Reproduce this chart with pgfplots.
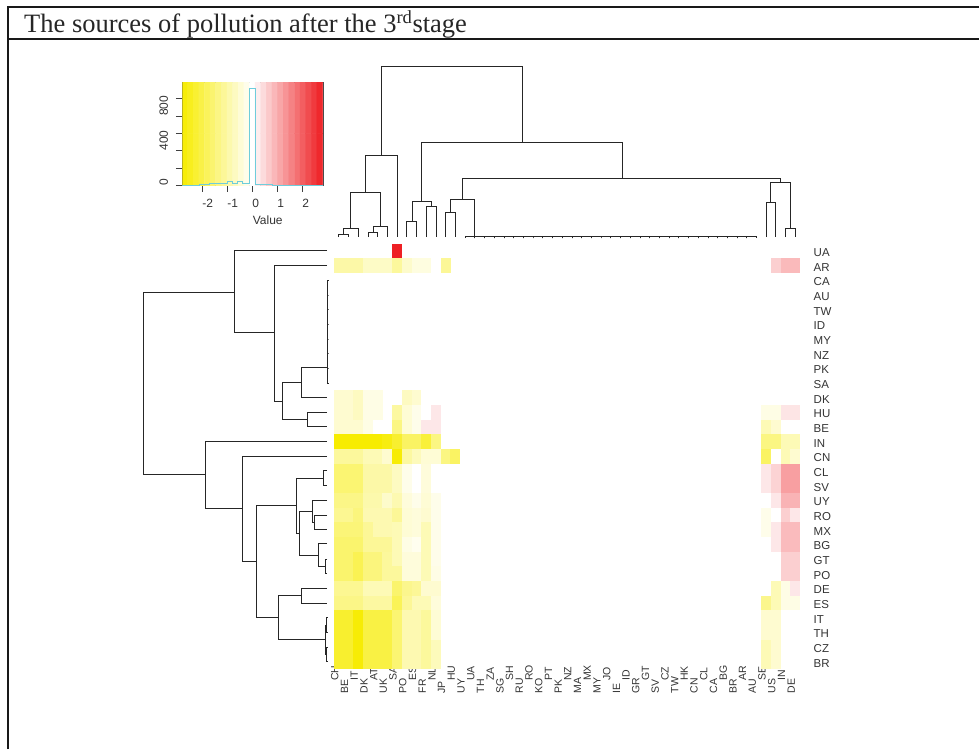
\documentclass[border=0pt]{standalone}
\usepackage{fontspec}
\setmainfont{Liberation Sans}
\newfontfamily\titlefont{Liberation Serif}
\usepackage{pgfplots}
\pgfplotsset{compat=1.18}
\pgfdeclareplotmark{cell}{\pgfpathrectangle{\pgfpoint{-4.93pt}{-7.4pt}}{\pgfpoint{9.86pt}{14.8pt}}\pgfusepathqfill}
\pgfplotsset{
  colormap={ywr}{rgb255=(247,236,0) rgb255=(255,255,255) rgb255=(238,32,36)},
  colormap={ywrh}{rgb255(0pt)=(247,236,0) rgb255(2.45pt)=(255,255,255) rgb255(5.25pt)=(238,32,36)},
  den/.style={draw=black!85,line width=0.85pt,no marks,line join=miter},
}
\definecolor{tx}{gray}{0.2}
\definecolor{histc}{RGB}{110,205,220}
\begin{document}
\begin{tikzpicture}[x=1pt,y=1pt]
\path[use as bounding box] (0,0) rectangle (979,-749);
% frame of the figure
\draw[black!90,line width=1.9pt] (8.3,-749) -- (8.3,-6.7) -- (979,-6.7);
\draw[black!90,line width=1.9pt] (8.3,-38.7) -- (979,-38.7);
\node[anchor=base west,inner sep=0pt,text=black!85] at (24,-33) {\titlefont\fontsize{26.5}{28}\selectfont The sources of pollution after the 3\textsuperscript{rd}stage};

% heat map
\begin{axis}[at={(334pt,-243.7pt)},anchor=north west,scale only axis,width=466pt,height=425.3pt,
  axis on top,
  xmin=-0.5,xmax=47.5,ymin=-0.5,ymax=28.5,y dir=reverse,
  axis line style={draw=none},major tick length=0pt,tick style={draw=none},
  colormap name=ywrh,point meta min=-2.45,point meta max=2.8,
  xtick={0,2,...,46},
  xticklabels={CH,IT,AT,SA,ES,NL,HU,UA,ZA,SH,RO,PT,NZ,MX,JO,ID,GT,CZ,HK,CL,BG,AR,SE,IN},
  extra x ticks={1,3,...,47},
  extra x tick labels={BE,DK,UK,PO,FR,JP,UY,TH,SG,RU,KO,PK,MA,MY,IE,GR,SV,TW,CN,CA,BR,AU,US,DE},
  extra x tick style={xticklabel style={xshift=-12.5pt}},
  xticklabel style={xshift=-4pt,yshift=-12pt,rotate=90,anchor=west,inner sep=0pt,font=\fontsize{10.5}{11}\selectfont,text=tx},
  ytick={0,1,...,28},
  yticklabels={UA,AR,CA,AU,TW,ID,MY,NZ,PK,SA,DK,HU,BE,IN,CN,CL,SV,UY,RO,MX,BG,GT,PO,DE,ES,IT,TH,CZ,BR},
  yticklabel pos=right,
  yticklabel style={anchor=west,inner sep=0pt,xshift=13.5pt,yshift=-1.5pt,font=\fontsize{11.5}{12}\selectfont,text=tx},
]
\addplot[scatter,only marks,mark=cell,point meta=explicit] coordinates {
(6,0)[2.8]
(0,1)[-.85](1,1)[-.85](2,1)[-.85](3,1)[-.55](4,1)[-.55](5,1)[-.55](6,1)[-.95](7,1)[-.5](8,1)[-.3](9,1)[-.3](11,1)[-1.0](45,1)[.6](46,1)[.87](47,1)[.87]
(0,10)[-.45](1,10)[-.45](2,10)[-.6](3,10)[-.25](4,10)[-.25](7,10)[-.6](8,10)[-.45]
(0,11)[-.45](1,11)[-.45](2,11)[-.6](3,11)[-.25](4,11)[-.25](6,11)[-.9](7,11)[-.4](8,11)[-.2](10,11)[.3](44,11)[-.25](45,11)[-.25](46,11)[.33](47,11)[.33]
(0,12)[-.45](1,12)[-.45](2,12)[-.45](3,12)[-.25](6,12)[-1.2](7,12)[-.4](8,12)[-.2](9,12)[.3](10,12)[.3](44,12)[-.7](45,12)[-.45]
(0,13)[-2.7](1,13)[-2.7](2,13)[-2.7](3,13)[-2.5](4,13)[-2.5](5,13)[-2.3](6,13)[-2.0](7,13)[-1.5](8,13)[-1.5](9,13)[-1.9](10,13)[-1.2](44,13)[-1.2](45,13)[-1.2](46,13)[-.7](47,13)[-.7]
(0,14)[-.95](1,14)[-.95](2,14)[-.95](3,14)[-.7](4,14)[-.7](5,14)[-.45](6,14)[-2.4](7,14)[-.9](8,14)[-.65](9,14)[-.4](10,14)[-.4](11,14)[-1.2](12,14)[-1.5](44,14)[-1.5](46,14)[-.7](47,14)[-.45]
(0,15)[-1.35](1,15)[-1.35](2,15)[-1.35](3,15)[-.85](4,15)[-.85](5,15)[-.85](6,15)[-.6](7,15)[-.2](9,15)[-.35](44,15)[.3](45,15)[.55](46,15)[1.2](47,15)[1.2]
(0,16)[-1.35](1,16)[-1.35](2,16)[-1.35](3,16)[-.85](4,16)[-.85](5,16)[-.85](6,16)[-.6](7,16)[-.2](9,16)[-.35](44,16)[.3](45,16)[.55](46,16)[1.2](47,16)[1.2]
(0,17)[-1.15](1,17)[-1.15](2,17)[-1.15](3,17)[-.8](4,17)[-.8](5,17)[-.5](6,17)[-.75](7,17)[-.35](8,17)[-.2](9,17)[-.4](10,17)[-.2](45,17)[.3](46,17)[.95](47,17)[.95]
(0,18)[-1.05](1,18)[-1.05](2,18)[-1.25](3,18)[-.75](4,18)[-.75](5,18)[-.75](6,18)[-1.0](7,18)[-.4](8,18)[-.35](9,18)[-.45](10,18)[-.2](44,18)[-.2](46,18)[.6](47,18)[.3]
(0,19)[-1.3](1,19)[-1.3](2,19)[-1.3](3,19)[-1.0](4,19)[-.75](5,19)[-.75](6,19)[-.7](7,19)[-.4](8,19)[-.35](9,19)[-.7](10,19)[-.2](44,19)[-.2](45,19)[.3](46,19)[.85](47,19)[.85]
(0,20)[-1.4](1,20)[-1.4](2,20)[-1.4](3,20)[-1.0](4,20)[-1.0](5,20)[-1.0](6,20)[-.7](7,20)[-.25](8,20)[-.15](9,20)[-.7](10,20)[-.2](45,20)[.3](46,20)[.85](47,20)[.85]
(0,21)[-1.4](1,21)[-1.4](2,21)[-1.65](3,21)[-1.25](4,21)[-1.25](5,21)[-.95](6,21)[-.7](7,21)[-.35](8,21)[-.35](9,21)[-.7](10,21)[-.2](46,21)[.6](47,21)[.6]
(0,22)[-1.4](1,22)[-1.4](2,22)[-1.65](3,22)[-1.25](4,22)[-1.25](5,22)[-.95](6,22)[-.95](7,22)[-.35](8,22)[-.35](9,22)[-.7](10,22)[-.25](46,22)[.6](47,22)[.6]
(0,23)[-1.05](1,23)[-1.05](2,23)[-1.05](3,23)[-.7](4,23)[-.7](5,23)[-.7](6,23)[-1.4](7,23)[-1.1](8,23)[-1.0](9,23)[-.45](10,23)[-.45](45,23)[-.7](46,23)[-.25](47,23)[.3]
(0,24)[-1.15](1,24)[-1.15](2,24)[-1.15](3,24)[-.9](4,24)[-.9](5,24)[-.9](6,24)[-1.6](7,24)[-1.0](8,24)[-.7](9,24)[-.7](10,24)[-.35](44,24)[-1.1](45,24)[-.7](46,24)[-.25](47,24)[-.25]
(0,25)[-2.0](1,25)[-2.0](2,25)[-2.4](3,25)[-1.8](4,25)[-1.8](5,25)[-1.8](6,25)[-1.35](7,25)[-.75](8,25)[-.75](9,25)[-.95](10,25)[-.4](44,25)[-.45](45,25)[-.45]
(0,26)[-2.0](1,26)[-2.0](2,26)[-2.4](3,26)[-1.8](4,26)[-1.8](5,26)[-1.8](6,26)[-1.35](7,26)[-.75](8,26)[-.75](9,26)[-.95](10,26)[-.4](44,26)[-.45](45,26)[-.45]
(0,27)[-2.0](1,27)[-2.0](2,27)[-2.4](3,27)[-1.8](4,27)[-1.8](5,27)[-1.8](6,27)[-1.35](7,27)[-.75](8,27)[-.75](9,27)[-.95](10,27)[-.65](44,27)[-.7](45,27)[-.45]
(0,28)[-2.0](1,28)[-2.0](2,28)[-2.4](3,28)[-1.8](4,28)[-1.8](5,28)[-1.8](6,28)[-1.35](7,28)[-.75](8,28)[-.75](9,28)[-.95](10,28)[-.65](44,28)[-.7](45,28)[-.45]
};
\end{axis}

% colour key with histogram
\begin{axis}[at={(182.3pt,-82.7pt)},anchor=north west,scale only axis,width=140.7pt,height=102.6pt,
  xmin=-2.8,xmax=2.83,ymin=0,ymax=1185,
  axis line style={draw=black!70,line width=0.7pt},
  colormap name=ywr,point meta min=-2.8,point meta max=2.8,
  tick align=outside,tick pos=left,major tick length=6.5pt,
  tick style={draw=black!75,line width=0.7pt},
  xtick={-2,-1,0,1,2},xticklabels={-2,-1,0,1,2},
  ytick={0,200,400,600,800,1000},yticklabels={0,,400,,800,},
  xticklabel style={anchor=west,inner sep=0pt,yshift=-11.5pt,font=\fontsize{12}{13}\selectfont,text=tx},
  yticklabel style={rotate=90,anchor=west,inner sep=0pt,yshift=12pt,font=\fontsize{12}{13}\selectfont,text=tx},
  xlabel={Value},
  xlabel style={at={(axis description cs:0.5,0)},anchor=west,inner sep=0pt,yshift=-34.7pt,font=\fontsize{12}{13}\selectfont,text=tx},
]
\addplot[matrix plot*,mesh/cols=25,point meta=explicit] coordinates {
(-2.7,-600)[-2.7](-2.475,-600)[-2.475](-2.25,-600)[-2.25](-2.025,-600)[-2.025](-1.8,-600)[-1.8](-1.575,-600)[-1.575](-1.35,-600)[-1.35](-1.125,-600)[-1.125](-.9,-600)[-.9](-.675,-600)[-.675](-.45,-600)[-.45](-.225,-600)[-.225](0,-600)[0](.225,-600)[.225](.45,-600)[.45](.675,-600)[.675](.9,-600)[.9](1.125,-600)[1.125](1.35,-600)[1.35](1.575,-600)[1.575](1.8,-600)[1.8](2.025,-600)[2.025](2.25,-600)[2.25](2.475,-600)[2.475](2.7,-600)[2.7]
(-2.7,1800)[-2.7](-2.475,1800)[-2.475](-2.25,1800)[-2.25](-2.025,1800)[-2.025](-1.8,1800)[-1.8](-1.575,1800)[-1.575](-1.35,1800)[-1.35](-1.125,1800)[-1.125](-.9,1800)[-.9](-.675,1800)[-.675](-.45,1800)[-.45](-.225,1800)[-.225](0,1800)[0](.225,1800)[.225](.45,1800)[.45](.675,1800)[.675](.9,1800)[.9](1.125,1800)[1.125](1.35,1800)[1.35](1.575,1800)[1.575](1.8,1800)[1.8](2.025,1800)[2.025](2.25,1800)[2.25](2.475,1800)[2.475](2.7,1800)[2.7]
};
\addplot[const plot,no marks,draw=histc,line width=0.9pt] coordinates {
(-2.8,0)(-2.1,10)(-1.7,18)(-1.0,40)(-.8,25)(-.6,40)(-.4,25)(-.12,1120)(.12,10)(.8,0)(2.83,0)
};
\end{axis}

% top dendrogram (pixel positions of the drawing)
\begin{axis}[at={(334pt,-60pt)},anchor=north west,scale only axis,width=466pt,height=180pt,
  xmin=334,xmax=800,ymin=60,ymax=240,y dir=reverse,axis lines=none]
\addplot[den] coordinates {(381.3,155)(381.3,66.3)(522,66.3)(522,142.7)};
\addplot[den] coordinates {(365.7,192.7)(365.7,155)(397.1,155)(397.1,237)};
\addplot[den] coordinates {(350.7,228.3)(350.7,192.7)(380.7,192.7)(380.7,226.7)};
\addplot[den] coordinates {(343.7,234.3)(343.7,228.3)(358.3,228.3)(358.3,237)};
\addplot[den] coordinates {(338.9,237)(338.9,234.3)(348.6,234.3)(348.6,237)};
\addplot[den] coordinates {(373,232.3)(373,226.7)(387.4,226.7)(387.4,237)};
\addplot[den] coordinates {(368,237)(368,232.3)(377.7,232.3)(377.7,237)};
\addplot[den] coordinates {(421.7,201.3)(421.7,142.7)(622,142.7)(622,178)};
\addplot[den] coordinates {(412,221.3)(412,201.3)(431,201.3)(431,206.7)};
\addplot[den] coordinates {(406.9,237)(406.9,221.3)(416.6,221.3)(416.6,237)};
\addplot[den] coordinates {(426.3,237)(426.3,206.7)(436,206.7)(436,237)};
\addplot[den] coordinates {(462.3,199)(462.3,178)(780.3,178)(780.3,182)};
\addplot[den] coordinates {(450.3,212.7)(450.3,199)(474.7,199)(474.7,236.7)};
\addplot[den] coordinates {(445.7,237)(445.7,212.7)(455.4,212.7)(455.4,237)};
\addplot[den] coordinates {(770.3,202.3)(770.3,182)(790,182)(790,228.3)};
\addplot[den] coordinates {(766,237)(766,202.3)(775.8,202.3)(775.8,237)};
\addplot[den] coordinates {(785.5,237)(785.5,228.3)(795.2,228.3)(795.2,237)};
\addplot[den,line width=0.7pt] coordinates {
(465.1,238)(465.1,236.7)(474.8,236.7)(474.8,238)(474.8,236.7)(484.5,236.7)(484.5,238)(484.5,236.7)(494.2,236.7)(494.2,238)(494.2,236.7)(503.9,236.7)(503.9,238)(503.9,236.7)(513.6,236.7)(513.6,238)(513.6,236.7)(523.3,236.7)(523.3,238)(523.3,236.7)(533,236.7)(533,238)(533,236.7)(542.7,236.7)(542.7,238)(542.7,236.7)(552.5,236.7)(552.5,238)(552.5,236.7)(562.2,236.7)(562.2,238)(562.2,236.7)(571.9,236.7)(571.9,238)(571.9,236.7)(581.6,236.7)(581.6,238)(581.6,236.7)(591.3,236.7)(591.3,238)(591.3,236.7)(601,236.7)(601,238)(601,236.7)(610.7,236.7)(610.7,238)(610.7,236.7)(620.4,236.7)(620.4,238)(620.4,236.7)(630.2,236.7)(630.2,238)(630.2,236.7)(639.9,236.7)(639.9,238)(639.9,236.7)(649.6,236.7)(649.6,238)(649.6,236.7)(659.3,236.7)(659.3,238)(659.3,236.7)(669,236.7)(669,238)(669,236.7)(678.7,236.7)(678.7,238)(678.7,236.7)(688.4,236.7)(688.4,238)(688.4,236.7)(698.1,236.7)(698.1,238)(698.1,236.7)(707.9,236.7)(707.9,238)(707.9,236.7)(717.6,236.7)(717.6,238)(717.6,236.7)(727.3,236.7)(727.3,238)(727.3,236.7)(737,236.7)(737,238)(737,236.7)(746.7,236.7)(746.7,238)(746.7,236.7)(756.4,236.7)(756.4,238)
};
\end{axis}

% left dendrogram (pixel positions of the drawing)
\begin{axis}[at={(130pt,-243.7pt)},anchor=north west,scale only axis,width=203pt,height=425.3pt,
  xmin=130,xmax=333,ymin=243.7,ymax=669,y dir=reverse,axis lines=none]
\addplot[den] coordinates {(234.7,292)(143,292)(143,474.7)(205.3,474.7)};
\addplot[den] coordinates {(327,250.3)(234.7,250.3)(234.7,332.7)(274.7,332.7)};
\addplot[den] coordinates {(327,265.3)(274.7,265.3)(274.7,401.3)(282,401.3)};
\addplot[den] coordinates {(301.3,382.7)(282,382.7)(282,419.3)(307.3,419.3)};
\addplot[den] coordinates {(327,367.7)(301.3,367.7)(301.3,397)(327,397)};
\addplot[den] coordinates {(327,412.3)(307.3,412.3)(307.3,426.7)(327,426.7)};
\addplot[den,line width=0.7pt] coordinates {
(328.5,280.3)(327,280.3)(327,295)(328.5,295)(327,295)(327,309.6)(328.5,309.6)(327,309.6)(327,324.3)(328.5,324.3)(327,324.3)(327,339)(328.5,339)(327,339)(327,353.6)(328.5,353.6)(327,353.6)(327,368.3)(328.5,368.3)(327,368.3)(327,383)(328.5,383)
};
\addplot[den] coordinates {(327,441)(205.3,441)(205.3,508.7)(242.3,508.7)};
\addplot[den] coordinates {(327,456.3)(242.3,456.3)(242.3,561.3)(256.7,561.3)};
\addplot[den] coordinates {(296.7,505.7)(256.7,505.7)(256.7,617.7)(278.7,617.7)};
\addplot[den] coordinates {(323.3,478)(296.7,478)(296.7,533.3)(299,533.3)};
\addplot[den] coordinates {(327,470.7)(323.3,470.7)(323.3,485.3)(327,485.3)};
\addplot[den] coordinates {(312,511)(299,511)(299,555.3)(318.3,555.3)};
\addplot[den] coordinates {(327,500)(312,500)(312,522.3)(314.3,522.3)};
\addplot[den] coordinates {(327,515)(314.3,515)(314.3,529.3)(327,529.3)};
\addplot[den] coordinates {(327,543.7)(318.3,543.7)(318.3,566)(325,566)};
\addplot[den] coordinates {(327,559)(325,559)(325,573.3)(327,573.3)};
\addplot[den] coordinates {(301.3,595)(278.7,595)(278.7,639.3)(325.3,639.3)};
\addplot[den] coordinates {(327,588)(301.3,588)(301.3,603.3)(327,603.3)};
\addplot[den] coordinates {(326.3,625)(325.3,625)(325.3,654)(326.3,654)};
\addplot[den] coordinates {(327.5,617.5)(326.3,617.5)(326.3,632)(327.5,632)};
\addplot[den] coordinates {(327.5,647)(326.3,647)(326.3,661)(327.5,661)};
\end{axis}
\end{tikzpicture}
\end{document}
